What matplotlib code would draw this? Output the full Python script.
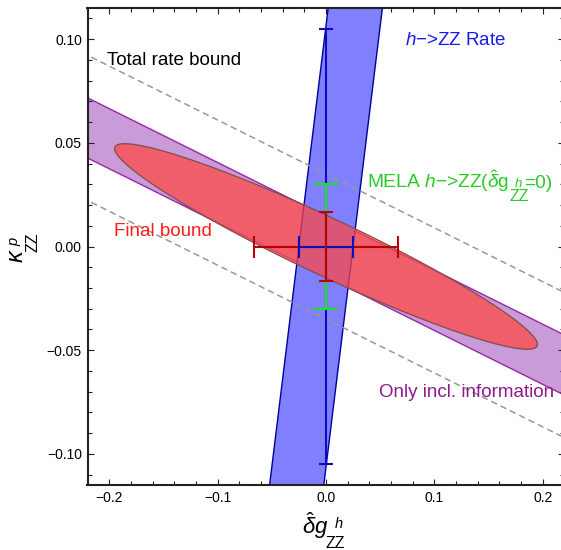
import numpy as np
import matplotlib
matplotlib.use("Agg")
import matplotlib.pyplot as plt

plt.rcParams['font.family'] = ['Liberation Sans', 'DejaVu Sans']
plt.rcParams['mathtext.fontset'] = 'custom'
plt.rcParams['mathtext.rm'] = 'Liberation Sans'
plt.rcParams['mathtext.it'] = 'Liberation Sans:italic'
plt.rcParams['mathtext.bf'] = 'Liberation Sans:bold'

# ---------------- data ----------------
x_limits = [-0.218, 0.220]
y_limits = [-0.115, 0.115]
x_ticks = [-0.2, -0.1, 0.0, 0.1, 0.2]
x_tick_labels = ['\u22120.2', '\u22120.1', '0.0', '0.1', '0.2']
y_ticks = [-0.10, -0.05, 0.0, 0.05, 0.10]
y_tick_labels = ['\u22120.10', '\u22120.05', '0.00', '0.05', '0.10']

# purple band ("Only incl. information"): kappa = slope*dg +/- halfwidth
incl_slope = -0.26
incl_halfwidth = 0.0145
# dashed "Total rate bound" lines: kappa = slope*dg + intercept
rate_slope = -0.26
rate_intercepts = [0.035, -0.035]
# blue band ("h->ZZ Rate"): dg = tilt*kappa +/- halfwidth
hzz_tilt = 0.235
hzz_halfwidth = 0.025
# red ellipse ("Final bound"): axis slope, half-height at dg=0, maximal extent in dg
final_slope = -0.242
final_halfheight = 0.0152
final_max_dg = 0.195
# error bars (half-lengths)
red_err_dg = 0.066
red_err_kappa = 0.0166
blue_err_dg = 0.025
blue_err_kappa = 0.105
green_err_kappa = 0.030

# ---------------- figure ----------------
W, H = 561, 550
fig = plt.figure(figsize=(W / 100, H / 100), dpi=100)
left_px, right_px, top_px, bot_px = 87.5, 564.5, 8, 485
ax = fig.add_axes([left_px / W, (H - bot_px) / H, (right_px - left_px) / W, (bot_px - top_px) / H])
ax.set_xlim(x_limits)
ax.set_ylim(y_limits)

# purple band
xs = np.linspace(x_limits[0] - 0.05, x_limits[1] + 0.05, 200)
ax.fill_between(xs, incl_slope * xs - incl_halfwidth, incl_slope * xs + incl_halfwidth,
                facecolor=(0.79, 0.61, 0.85), edgecolor=(0.6, 0.15, 0.65), linewidth=1.0, zorder=1)

# blue band
ys = np.linspace(y_limits[0] - 0.05, y_limits[1] + 0.05, 200)
ax.fill_betweenx(ys, hzz_tilt * ys - hzz_halfwidth, hzz_tilt * ys + hzz_halfwidth,
                 facecolor=(0.5, 0.5, 1.0), edgecolor=(0.0, 0.0, 0.6), linewidth=1.0, zorder=2)

# dashed lines
for b in rate_intercepts:
    ax.plot(xs, rate_slope * xs + b, color=(0.6, 0.6, 0.6), linewidth=1.1,
            dashes=(4.2, 2.6), zorder=3)

# red ellipse: points dg = xm*cos t, kappa = slope*dg + h0*sin t (conjugate semi-diameters)
t = np.linspace(0, 2 * np.pi, 400)
ex = final_max_dg * np.cos(t)
ey = final_slope * ex + final_halfheight * np.sin(t)
ax.fill(ex, ey, facecolor=(1.0, 0.28, 0.25), alpha=0.72, edgecolor='none', zorder=4)
ax.plot(ex, ey, color=(0.5, 0.3, 0.3), linewidth=0.9, zorder=4.1)

# error bars
red_c = (0.72, 0.0, 0.0)
blue_c = (0.05, 0.05, 0.75)
green_c = (0.1, 0.9, 0.1)
lw = 1.5
ax.errorbar([0], [0], yerr=[blue_err_kappa], color=blue_c, lw=lw, capsize=4.8, capthick=lw, zorder=5)
ax.errorbar([0], [0], yerr=[green_err_kappa], color=green_c, lw=lw, capsize=8.6, capthick=lw, zorder=6)
ax.errorbar([0], [0], xerr=[red_err_dg], color=red_c, lw=lw, capsize=8.0, capthick=lw, zorder=7)
ax.errorbar([0], [0], xerr=[blue_err_dg], color=blue_c, lw=lw, capsize=8.0, capthick=lw, zorder=8)
ax.errorbar([0], [0], yerr=[red_err_kappa], color=red_c, lw=lw, capsize=4.8, capthick=lw, zorder=9)

# helper: pixel position (from top-left) -> figure fraction
def fpx(x, y):
    return x / W, 1 - y / H

# labels in the plot
fs = 13.5
ax.text(-0.2018, 0.0873, 'Total rate bound', color='black', fontsize=fs, va='baseline', ha='left', zorder=10)
ax.text(0.0725, 0.0974, '$h$\u2212>ZZ Rate', color=(0.1, 0.1, 0.95), fontsize=fs, va='baseline', ha='left', zorder=10)
ax.text(-0.1954, 0.0050, 'Final bound', color=(1.0, 0.1, 0.1), fontsize=fs, va='baseline', ha='left', zorder=10)
ax.text(0.0486, -0.0728, 'Only incl. information', color=(0.55, 0.1, 0.55), fontsize=fs, va='baseline', ha='left', zorder=10)

# MELA label, assembled from pieces so the super/subscript sit like the original
green_t = (0.15, 0.8, 0.15)
renderer = fig.canvas.get_renderer()
t1 = fig.text(*fpx(367, 188), 'MELA $h$\u2212>ZZ($\\hat{\\delta}$g', color=green_t, fontsize=13.8,
              ha='left', va='baseline', zorder=10)
x_end = t1.get_window_extent(renderer).x1  # display px from left
fig.text(*fpx(x_end + 5, 187), '$h$', color=green_t, fontsize=9.5, ha='left', va='baseline', zorder=10)
fig.text(*fpx(x_end + 0, 201), 'ZZ', color=green_t, fontsize=11.5, ha='left', va='baseline', zorder=10)
fig.text(*fpx(x_end + 15, 188), '=0)', color=green_t, fontsize=13.8, ha='left', va='baseline', zorder=10)

# axes styling
ax.set_xticks(x_ticks)
ax.set_xticklabels(x_tick_labels)
ax.set_yticks(y_ticks)
ax.set_yticklabels(y_tick_labels)
ax.set_xticks(np.arange(-0.22, 0.2201, 0.02), minor=True)
ax.set_yticks(np.arange(-0.11, 0.1101, 0.01), minor=True)
ax.tick_params(which='both', direction='in', top=True, right=True, labelsize=10, width=0.8, color='#222222')
ax.tick_params(which='major', length=4.5, pad=4)
ax.tick_params(which='minor', length=2.6)
for s in ax.spines.values():
    s.set_linewidth(1.5)
    s.set_color('#222222')

# axis labels built from pieces (main symbol, superscript, subscript)
fig.text(*fpx(302, 534), '$\\hat{\\delta}g$', fontsize=16, ha='left', va='baseline')
fig.text(*fpx(334, 528), '$h$', fontsize=10.5, ha='left', va='baseline')
fig.text(*fpx(326, 548), 'ZZ', fontsize=11.5, ha='left', va='baseline')

fig.text(*fpx(23, 263), '$\\kappa$', fontsize=17, rotation=90, rotation_mode='anchor', ha='left', va='baseline')
fig.text(*fpx(18, 246), '$p$', fontsize=10.5, rotation=90, rotation_mode='anchor', ha='left', va='baseline')
fig.text(*fpx(37, 252), 'ZZ', fontsize=11.5, rotation=90, rotation_mode='anchor', ha='left', va='baseline')

fig.savefig('out.png', dpi=100)
